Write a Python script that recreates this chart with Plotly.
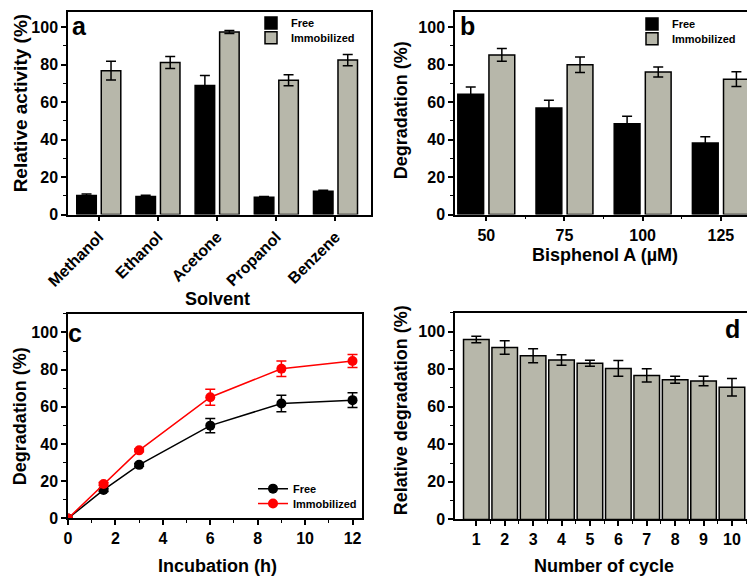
import plotly.graph_objects as go

# ---------------- data ----------------
solvents = ["Methanol", "Ethanol", "Acetone", "Propanol", "Benzene"]
a_free = [10.2, 9.7, 68.8, 9.2, 12.5]
a_free_err = [0.8, 0.6, 5.3, 0.5, 0.5]
a_imm = [76.7, 81.1, 97.4, 71.6, 82.4]
a_imm_err = [5.0, 3.2, 0.8, 2.9, 3.0]

bpa_conc = ["50", "75", "100", "125"]
b_free = [64.1, 56.8, 48.4, 38.1]
b_free_err = [3.9, 4.2, 4.0, 3.4]
b_imm = [85.1, 79.9, 76.0, 72.2]
b_imm_err = [3.4, 4.1, 2.7, 3.9]

time_h = [0, 1.5, 3, 6, 9, 12]
c_free = [0, 15.3, 28.8, 49.9, 61.8, 63.6]
c_free_err = [0, 0.8, 0.8, 3.8, 4.4, 4.0]
c_imm = [0, 18.5, 36.6, 65.2, 80.5, 84.7]
c_imm_err = [0, 0.8, 0.8, 4.3, 4.2, 3.5]

cycles = [1, 2, 3, 4, 5, 6, 7, 8, 9, 10]
d_vals = [95.8, 91.6, 87.2, 84.9, 83.2, 80.4, 76.7, 74.4, 73.7, 70.4]
d_err = [1.7, 3.6, 3.7, 2.8, 1.6, 4.2, 3.5, 1.9, 2.5, 4.7]

y_ticks = [0, 20, 40, 60, 80, 100]

# ---------------- style ----------------
FONT = "Liberation Sans, Arial, sans-serif"
GRAY = "#b7b7aa"
OFF = 8                      # page body margin offset
W, H = 755 - OFF, 579 - OFF  # figure size that fills the window


def px(x):
    return (x - OFF) / W


def py(y):
    return 1 - (y - OFF) / H


fig = go.Figure()

err_style = dict(type="data", color="black", thickness=1.5, width=5)
bar_line = dict(color="black", width=1.5)

# panel a
xa = list(range(len(solvents)))
fig.add_trace(go.Bar(x=xa, y=a_free, name="Free", marker=dict(color="black", line=bar_line),
                     width=0.33, offset=-0.372,
                     error_y=dict(array=a_free_err, **err_style),
                     xaxis="x", yaxis="y", legend="legend"))
fig.add_trace(go.Bar(x=xa, y=a_imm, name="Immobilized", marker=dict(color=GRAY, line=bar_line),
                     width=0.33, offset=0.042,
                     error_y=dict(array=a_imm_err, **err_style),
                     xaxis="x", yaxis="y", legend="legend2"))

# panel b
xb = list(range(len(bpa_conc)))
fig.add_trace(go.Bar(x=xb, y=b_free, name="Free", marker=dict(color="black", line=bar_line),
                     width=0.33, offset=-0.364,
                     error_y=dict(array=b_free_err, **err_style),
                     xaxis="x2", yaxis="y2", legend="legend3"))
fig.add_trace(go.Bar(x=xb, y=b_imm, name="Immobilized", marker=dict(color=GRAY, line=bar_line),
                     width=0.33, offset=0.034,
                     error_y=dict(array=b_imm_err, **err_style),
                     xaxis="x2", yaxis="y2", legend="legend4"))

# panel c
fig.add_trace(go.Scatter(x=time_h, y=c_free, name="Free", mode="lines+markers",
                         line=dict(color="black", width=1.5),
                         marker=dict(color="black", size=10),
                         error_y=dict(array=c_free_err, **err_style),
                         xaxis="x3", yaxis="y3", legend="legend5"))
fig.add_trace(go.Scatter(x=time_h, y=c_imm, name="Immobilized", mode="lines+markers",
                         line=dict(color="red", width=1.5),
                         marker=dict(color="red", size=10),
                         error_y=dict(type="data", array=c_imm_err, color="red", thickness=1.5, width=5),
                         xaxis="x3", yaxis="y3", legend="legend6"))

# panel d
fig.add_trace(go.Bar(x=cycles, y=d_vals, name="Cycle", marker=dict(color=GRAY, line=bar_line),
                     width=0.9, error_y=dict(array=d_err, **err_style),
                     xaxis="x4", yaxis="y4", showlegend=False))

axis_common = dict(showline=True, mirror=True, linecolor="black", linewidth=1.5,
                   ticks="outside", ticklen=5, tickwidth=1.5, tickcolor="black",
                   showgrid=False, zeroline=False, automargin=False,
                   tickfont=dict(family=FONT, size=16, color="black", weight="bold"))

minor_y = dict(ticks="outside", ticklen=3, tickwidth=1.2, tickcolor="black", dtick=10, tick0=0)
yaxis_common = dict(axis_common, tickvals=y_ticks, minor=minor_y)

dom_a_x = [px(68), px(371)]
dom_b_x = [px(455), px(749)]
dom_top_y = [py(212), 1.0]          # frame top clipped to the page top
dom_c_x = [px(68), px(362)]
dom_bot_y = [py(518), py(312)]
dom_d_x = [px(455), px(749)]
dom_d_y = [py(519), py(311)]

leg_font = dict(family=FONT, size=11, weight="bold", color="black")


def leg(x, y):
    return dict(x=px(x), y=py(y), xanchor="left", yanchor="middle",
                bgcolor="rgba(0,0,0,0)", font=leg_font, tracegroupgap=0, itemwidth=30)


fig.update_layout(
    template="none",
    width=W, height=H, autosize=False,
    margin=dict(l=0, r=0, t=0, b=0, pad=0),
    paper_bgcolor="white", plot_bgcolor="white",
    barmode="group",
    font=dict(family=FONT, color="black"),
    xaxis=dict(axis_common, domain=dom_a_x, anchor="y", range=[-0.52, 4.6],
               tickvals=xa, ticktext=solvents, tickangle=-45),
    yaxis=dict(yaxis_common, domain=dom_top_y, anchor="x", range=[0, 108]),
    xaxis2=dict(axis_common, domain=dom_b_x, anchor="y2", range=[-0.4, 3.36],
                tickvals=xb, ticktext=bpa_conc,
                minor=dict(ticks="outside", ticklen=3, tickwidth=1.2, tickcolor="black",
                           tickvals=[0.5, 1.5, 2.5])),
    yaxis2=dict(yaxis_common, domain=dom_top_y, anchor="x2", range=[0, 108]),
    xaxis3=dict(axis_common, domain=dom_c_x, anchor="y3", range=[0, 12.4],
                tickvals=[0, 2, 4, 6, 8, 10, 12],
                minor=dict(ticks="outside", ticklen=3, tickwidth=1.2, tickcolor="black", dtick=1, tick0=0)),
    yaxis3=dict(yaxis_common, domain=dom_bot_y, anchor="x3", range=[0, 110]),
    xaxis4=dict(axis_common, domain=dom_d_x, anchor="y4", range=[0.25, 10.6],
                tickvals=cycles,
                minor=dict(ticks="outside", ticklen=3, tickwidth=1.2, tickcolor="black",
                           tickvals=[c + 0.5 for c in cycles])),
    yaxis4=dict(yaxis_common, domain=dom_d_y, anchor="x4", range=[0, 110]),
    legend=leg(251, 19),
    legend2=leg(251, 34),
    legend3=leg(632, 20),
    legend4=leg(632, 35),
    legend5=leg(253, 488),
    legend6=leg(253, 503),
)


def label(text, x, y, size=18, angle=0):
    fig.add_annotation(text=text, x=px(x), y=py(y), xref="paper", yref="paper",
                       showarrow=False, textangle=angle, xanchor="center", yanchor="middle",
                       font=dict(family=FONT, size=size, color="black", weight="bold"))


# axis titles
label("Relative activity (%)", 20, 100, size=19, angle=-90)
label("Solvent", 217, 297)
label("Degradation (%)", 401, 107, angle=-90)
label("Bisphenol A (µM)", 605, 253)
label("Degradation (%)", 20, 415, angle=-90)
label("Incubation (h)", 217, 566)
label("Relative degradation (%)", 401, 409, angle=-90)
label("Number of cycle", 604, 566)

# panel letters
label("a", 79, 22, size=25)
label("b", 467, 22, size=25)
label("c", 75, 331, size=25)
label("d", 732, 327, size=25)

fig.write_html("out.html")
